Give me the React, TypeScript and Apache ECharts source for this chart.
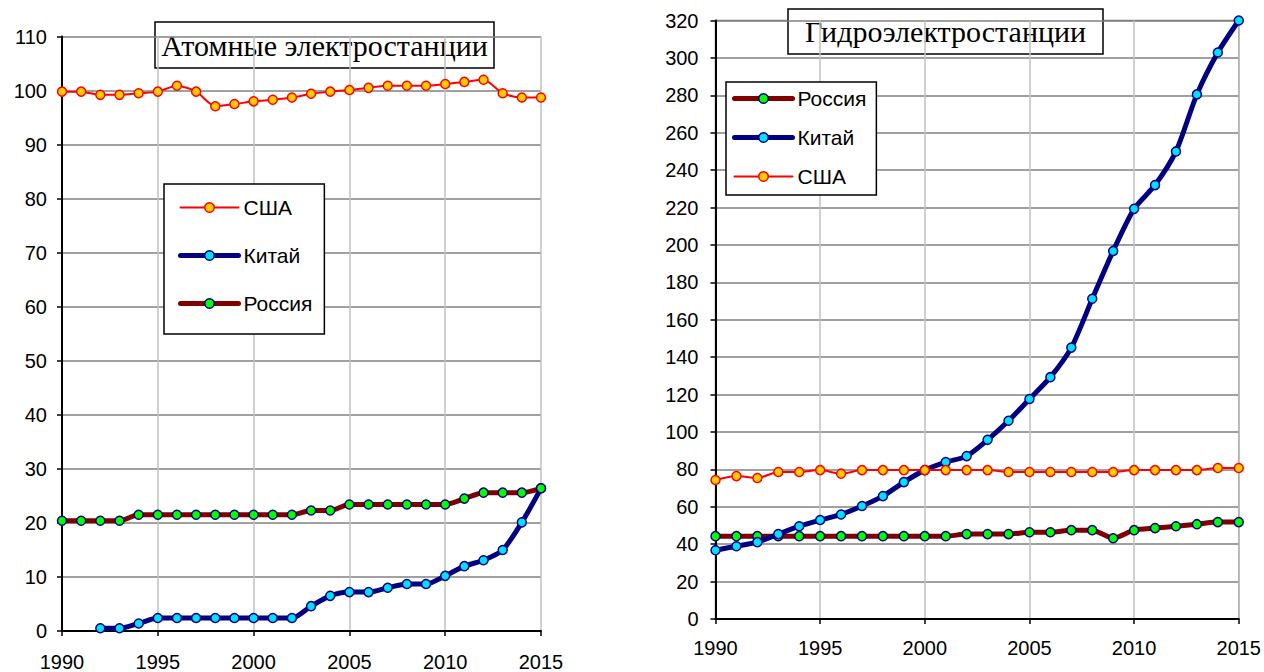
import React, { useEffect, useRef } from "react";
import * as echarts from "echarts";

const years = [1990, 1991, 1992, 1993, 1994, 1995, 1996, 1997, 1998, 1999, 2000, 2001, 2002, 2003, 2004, 2005, 2006, 2007, 2008, 2009, 2010, 2011, 2012, 2013, 2014, 2015];

const nuclearUSA = [99.8, 99.8, 99.2, 99.2, 99.5, 99.8, 100.9, 99.8, 97.1, 97.5, 98.0, 98.3, 98.7, 99.4, 99.8, 100.1, 100.5, 100.9, 100.9, 100.9, 101.2, 101.6, 102.0, 99.5, 98.7, 98.7];
const nuclearChina = [null, null, 0.5, 0.5, 1.4, 2.4, 2.4, 2.4, 2.4, 2.4, 2.4, 2.4, 2.4, 4.6, 6.5, 7.2, 7.2, 8.0, 8.7, 8.7, 10.2, 12.0, 13.1, 15.0, 20.1, 26.4];
const nuclearRussia = [20.4, 20.4, 20.4, 20.4, 21.5, 21.5, 21.5, 21.5, 21.5, 21.5, 21.5, 21.5, 21.5, 22.3, 22.3, 23.4, 23.4, 23.4, 23.4, 23.4, 23.4, 24.5, 25.6, 25.6, 25.6, 26.4];

const hydroUSA = [74.3, 76.4, 75.4, 78.6, 78.6, 79.6, 77.7, 79.6, 79.6, 79.6, 79.6, 79.6, 79.6, 79.6, 78.6, 78.6, 78.6, 78.6, 78.6, 78.6, 79.6, 79.6, 79.6, 79.6, 80.7, 80.7];
const hydroChina = [36.8, 38.9, 41.1, 45.4, 49.6, 52.9, 55.9, 60.4, 65.7, 73.2, 79.6, 83.9, 87.1, 95.8, 106.0, 117.6, 129.3, 145.1, 171.2, 196.8, 219.3, 232.0, 250.0, 280.5, 302.9, 320.0];
const hydroRussia = [44.3, 44.3, 44.3, 44.3, 44.3, 44.3, 44.3, 44.3, 44.3, 44.3, 44.3, 44.3, 45.4, 45.4, 45.4, 46.4, 46.4, 47.5, 47.5, 43.2, 47.5, 48.6, 49.6, 50.7, 51.8, 51.8];

const nuclearTitle = "Атомные электростанции";
const hydroTitle = "Гидроэлектростанции";
const nameUSA = "США";
const nameChina = "Китай";
const nameRussia = "Россия";

const pairs = (vals: (number | null)[]) => years.map((y, i) => [y, vals[i] === null ? "-" : vals[i]]);

const SANS = "Liberation Sans, Arial, sans-serif";
const SERIF = "Liberation Serif, Times New Roman, serif";

const styles: Record<string, any> = {
  [nameUSA]: { color: "#FF0000", width: 2, fill: "#FFCC00", border: "#FF0000" },
  [nameChina]: { color: "#000080", width: 5, fill: "#00E0FF", border: "#000080" },
  [nameRussia]: { color: "#800000", width: 5, fill: "#00FF00", border: "#000080" },
};

const mkSeries = (name: string, vals: (number | null)[], idx: number) => {
  const s = styles[name];
  return {
    type: "line",
    name,
    xAxisIndex: idx,
    yAxisIndex: idx,
    data: pairs(vals),
    smooth: 0.25,
    connectNulls: false,
    symbol: "circle",
    symbolSize: 9,
    lineStyle: { color: s.color, width: s.width },
    itemStyle: { color: s.fill, borderColor: s.border, borderWidth: 1.5 },
    emphasis: { disabled: true },
  };
};

const legendItem = (name: string) => {
  const s = styles[name];
  return {
    name,
    lineStyle: { color: s.color, width: s.width, cap: "round" },
    itemStyle: { color: s.fill, borderColor: s.border, borderWidth: 1.5 },
  };
};

const xAxisBase = (gridIndex: number, margin: number) => ({
  type: "value",
  gridIndex,
  min: 1990,
  max: 2015,
  interval: 5,
  axisLine: { show: true, onZero: false, lineStyle: { color: "#000", width: 2 } },
  axisTick: { show: true, inside: false, length: 5, lineStyle: { color: "#000", width: 1.5 } },
  axisLabel: { color: "#000", fontSize: 20, fontFamily: SANS, margin, formatter: (v: number) => String(v) },
  splitLine: { show: true, lineStyle: { color: "#C0C0C0", width: 1.5 } },
});

const yAxisBase = (gridIndex: number, max: number, interval: number, margin: number) => ({
  type: "value",
  gridIndex,
  min: 0,
  max,
  interval,
  axisLine: { show: true, lineStyle: { color: "#000", width: 2 } },
  axisTick: { show: true, inside: false, length: 5, lineStyle: { color: "#000", width: 1.5 } },
  axisLabel: { color: "#000", fontSize: 20, fontFamily: SANS, margin },
  splitLine: { show: true, lineStyle: { color: "#808080", width: 1.5 } },
});

const legendBase = {
  orient: "vertical",
  backgroundColor: "#fff",
  borderColor: "#000",
  borderWidth: 1.5,
  itemWidth: 58,
  itemHeight: 12,
  itemGap: 5,
  textStyle: { color: "#000", fontSize: 21, fontFamily: SANS },
  selectedMode: false,
  z: 20,
};

export default function App() {
  const ref = useRef<HTMLDivElement>(null);
  useEffect(() => {
    if (!ref.current) return;
    const chart = echarts.init(ref.current, undefined, { renderer: "svg" });
    chart.setOption({
      animation: false,
      backgroundColor: "#fff",
      grid: [
        { left: 62, top: 36.5, right: 723, bottom: 40.5, show: false },
        { left: 715.5, top: 20.5, right: 25, bottom: 53, show: true, borderColor: "#808080", borderWidth: 1.5 },
      ],
      xAxis: [xAxisBase(0, 21), xAxisBase(1, 19)],
      yAxis: [yAxisBase(0, 110, 10, 15), yAxisBase(1, 320, 20, 17)],
      legend: [
        {
          ...legendBase,
          left: 164,
          top: 184,
          padding: [13, 12, 20, 14],
          itemGap: 27,
          data: [nameUSA, nameChina, nameRussia].map(legendItem),
        },
        {
          ...legendBase,
          left: 726,
          top: 82,
          padding: [6, 10, 8, 6],
          itemGap: 18,
          data: [nameRussia, nameChina, nameUSA].map(legendItem),
        },
      ],
      graphic: [
        {
          type: "group",
          z: 30,
          children: [
            { type: "rect", shape: { x: 155, y: 22, width: 339, height: 46 }, style: { fill: "#fff", stroke: "#000", lineWidth: 1.5 } },
            { type: "text", x: 324.5, y: 45, style: { text: nuclearTitle, font: "30px " + SERIF, fill: "#000", textAlign: "center", textVerticalAlign: "middle" } },
            { type: "rect", shape: { x: 788, y: 9, width: 315, height: 45 }, style: { fill: "#fff", stroke: "#000", lineWidth: 1.5 } },
            { type: "text", x: 945.5, y: 31.5, style: { text: hydroTitle, font: "30px " + SERIF, fill: "#000", textAlign: "center", textVerticalAlign: "middle" } },
          ],
        },
      ],
      series: [
        mkSeries(nameUSA, nuclearUSA, 0),
        mkSeries(nameChina, nuclearChina, 0),
        mkSeries(nameRussia, nuclearRussia, 0),
        mkSeries(nameRussia, hydroRussia, 1),
        mkSeries(nameChina, hydroChina, 1),
        mkSeries(nameUSA, hydroUSA, 1),
      ],
    });
    return () => chart.dispose();
  }, []);
  return <div ref={ref} style={{ position: "absolute", left: 0, top: 0, width: 1264, height: 672 }} />;
}
